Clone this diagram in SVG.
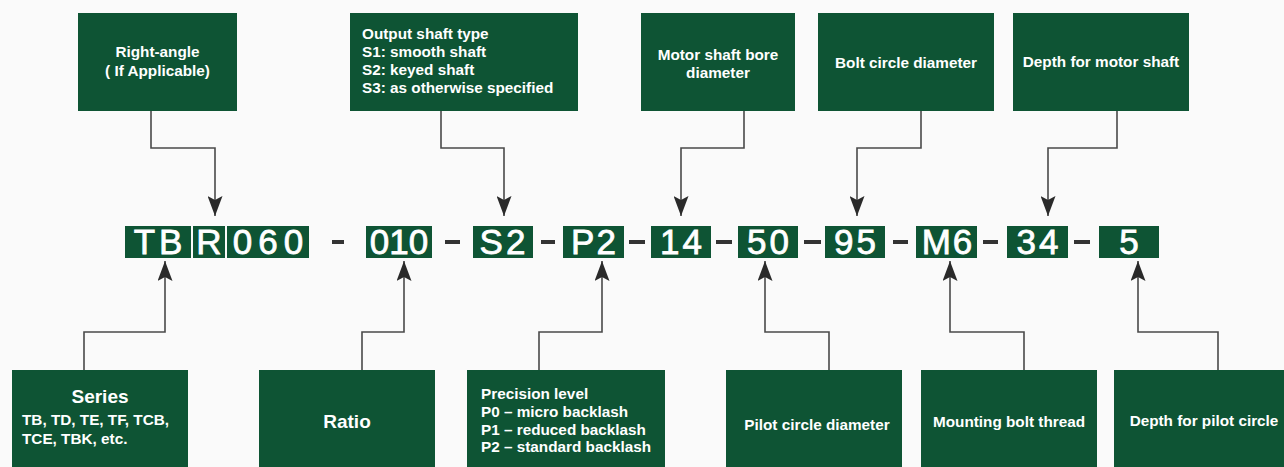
<svg xmlns="http://www.w3.org/2000/svg" width="1284" height="467" viewBox="0 0 1284 467">
<style>
.box{fill:#0e5434}
.t{font-family:"Liberation Sans",Arial,sans-serif;font-weight:bold;font-size:15.3px;fill:#ffffff}
.c{text-anchor:middle}
.big{font-size:19px}
.code{font-family:"Liberation Sans",Arial,sans-serif;font-size:35px;fill:#ffffff;stroke:#ffffff;stroke-width:0.8;text-anchor:middle}
.dash{fill:#333333}
.conn{fill:none;stroke:#4a4a4a;stroke-width:1.6}
</style>
<defs>
<marker id="ah" viewBox="0 0 20 15" refX="20" refY="7.5" markerWidth="20" markerHeight="15" markerUnits="userSpaceOnUse" orient="auto">
<path d="M0,0 L20,7.5 L0,15 L4,7.5 z" fill="#2a2a2a"/>
</marker>
</defs>
<rect width="1284" height="467" fill="#fafafa"/>

<g id="top-right-angle">
<rect class="box" x="78" y="13" width="159" height="98"/>
<text class="t c" x="157.5" y="57">Right-angle</text>
<text class="t c" x="157.5" y="76">( If Applicable)</text>
</g>
<g id="top-output-shaft">
<rect class="box" x="350" y="13" width="228" height="98"/>
<text class="t" x="362" y="39">Output shaft type</text>
<text class="t" x="362" y="57">S1: smooth shaft</text>
<text class="t" x="362" y="75">S2: keyed shaft</text>
<text class="t" x="362" y="93">S3: as otherwise specified</text>
</g>
<g id="top-motor-bore">
<rect class="box" x="641" y="13" width="154" height="98"/>
<text class="t c" x="718" y="60">Motor shaft bore</text>
<text class="t c" x="718" y="78">diameter</text>
</g>
<g id="top-bolt-circle">
<rect class="box" x="818" y="13" width="176" height="98"/>
<text class="t c" x="906" y="68">Bolt circle diameter</text>
</g>
<g id="top-depth-motor">
<rect class="box" x="1013" y="13" width="176" height="98"/>
<text class="t c" x="1101" y="67">Depth for motor shaft</text>
</g>

<g id="code">
<rect class="box" x="125" y="226" width="66" height="32"/>
<text class="code" x="160" y="254" letter-spacing="4">TB</text>
<rect class="box" x="193" y="226" width="32" height="32"/>
<text class="code" x="209" y="254">R</text>
<rect class="box" x="227" y="226" width="82" height="32"/>
<text class="code" x="271" y="254" letter-spacing="6">060</text>
<rect class="dash" x="332" y="240" width="12" height="4"/>
<rect class="box" x="366" y="226" width="66" height="32"/>
<text class="code" x="399" y="254">010</text>
<rect class="dash" x="445" y="240" width="15" height="4"/>
<rect class="box" x="473" y="226" width="60" height="32"/>
<text class="code" x="504" y="254" letter-spacing="3">S2</text>
<rect class="dash" x="541" y="240" width="14" height="4"/>
<rect class="box" x="563" y="226" width="61" height="32"/>
<text class="code" x="594.5" y="254" letter-spacing="2">P2</text>
<rect class="dash" x="629" y="240" width="16" height="4"/>
<rect class="box" x="651" y="226" width="60" height="32"/>
<text class="code" x="682.5" y="254" letter-spacing="3">14</text>
<rect class="dash" x="716" y="240" width="16" height="4"/>
<rect class="box" x="738" y="226" width="60" height="32"/>
<text class="code" x="769.5" y="254" letter-spacing="3">50</text>
<rect class="dash" x="804" y="240" width="17" height="4"/>
<rect class="box" x="825" y="226" width="60" height="32"/>
<text class="code" x="856.5" y="254" letter-spacing="3">95</text>
<rect class="dash" x="893" y="240" width="15" height="4"/>
<rect class="box" x="916" y="226" width="61" height="32"/>
<text class="code" x="948" y="254" letter-spacing="2">M6</text>
<rect class="dash" x="983" y="240" width="15" height="4"/>
<rect class="box" x="1007" y="226" width="61" height="32"/>
<text class="code" x="1039" y="254" letter-spacing="3">34</text>
<rect class="dash" x="1074" y="240" width="16" height="4"/>
<rect class="box" x="1099" y="226" width="60" height="32"/>
<text class="code" x="1129" y="254">5</text>
</g>

<g id="bottom-series">
<rect class="box" x="12" y="370" width="176" height="100"/>
<text class="t c big" x="100" y="403">Series</text>
<text class="t" x="22" y="425">TB, TD, TE, TF, TCB,</text>
<text class="t" x="22" y="443.5">TCE, TBK, etc.</text>
</g>
<g id="bottom-ratio">
<rect class="box" x="259" y="370" width="176" height="100"/>
<text class="t c big" x="347" y="427.5">Ratio</text>
</g>
<g id="bottom-precision">
<rect class="box" x="467" y="370" width="198" height="100"/>
<text class="t" x="481" y="399">Precision level</text>
<text class="t" x="481" y="417">P0 – micro backlash</text>
<text class="t" x="481" y="434.5">P1 – reduced backlash</text>
<text class="t" x="481" y="452">P2 – standard backlash</text>
</g>
<g id="bottom-pilot-circle">
<rect class="box" x="726" y="370" width="176" height="100"/>
<text class="t c" x="817" y="430">Pilot circle diameter</text>
</g>
<g id="bottom-mounting-thread">
<rect class="box" x="921" y="370" width="176" height="100"/>
<text class="t c" x="1009" y="427">Mounting bolt thread</text>
</g>
<g id="bottom-depth-pilot">
<rect class="box" x="1114" y="370" width="180" height="100"/>
<text class="t c" x="1204" y="426">Depth for pilot circle</text>
</g>

<g id="connectors" class="conn">
<path class="conn" d="M151,111 V148 H215 V216" marker-end="url(#ah)"/>
<path class="conn" d="M441,111 V148 H504 V216" marker-end="url(#ah)"/>
<path class="conn" d="M744,111 V148 H681 V216" marker-end="url(#ah)"/>
<path class="conn" d="M921,111 V148 H857 V216" marker-end="url(#ah)"/>
<path class="conn" d="M1117,111 V148 H1048 V216" marker-end="url(#ah)"/>
<path class="conn" d="M84,370 V332 H165 V261" marker-end="url(#ah)"/>
<path class="conn" d="M362,370 V332 H404 V261" marker-end="url(#ah)"/>
<path class="conn" d="M539,370 V332 H602 V261" marker-end="url(#ah)"/>
<path class="conn" d="M829,370 V332 H765 V261" marker-end="url(#ah)"/>
<path class="conn" d="M1024,370 V332 H950 V261" marker-end="url(#ah)"/>
<path class="conn" d="M1218,370 V332 H1138 V261" marker-end="url(#ah)"/>
</g>
</svg>
